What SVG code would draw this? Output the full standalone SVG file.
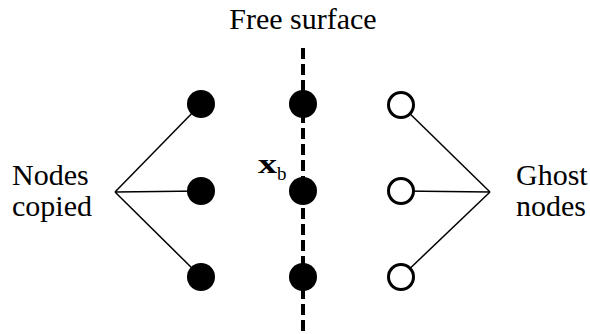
<svg xmlns="http://www.w3.org/2000/svg" width="590" height="334" viewBox="0 0 590 334">
<style>
.t{font-family:"Liberation Serif","Times New Roman",serif;fill:#000}
.lbl{font-size:30px}
.fill{fill:#000}
.open{fill:#fff;stroke:#000;stroke-width:3}
.ln{stroke:#000;stroke-width:1.5;fill:none}
.dash{stroke:#000;stroke-width:4;stroke-dasharray:11 5;fill:none}
</style>
<rect width="590" height="334" fill="#fff"/>
<text class="t lbl" x="303" y="29" text-anchor="middle">Free surface</text>
<g id="connectors">
<line class="dash" x1="303" y1="48" x2="303" y2="334"/>
<line class="ln" x1="115" y1="192" x2="201" y2="104"/>
<line class="ln" x1="115" y1="192" x2="201" y2="191"/>
<line class="ln" x1="115" y1="192" x2="201" y2="277"/>
<line class="ln" x1="490" y1="192" x2="401" y2="105"/>
<line class="ln" x1="490" y1="192" x2="401" y2="191"/>
<line class="ln" x1="490" y1="192" x2="401" y2="277"/>
</g>
<g id="copied-label"><text class="t lbl" x="12" y="185">Nodes</text><text class="t lbl" x="12" y="216">copied</text></g>
<g id="ghost-label"><text class="t lbl" x="516" y="185">Ghost</text><text class="t lbl" x="516" y="216">nodes</text></g>
<g id="xb"><text class="t" x="258" y="173" font-size="28" font-weight="bold" textLength="19" lengthAdjust="spacingAndGlyphs">x</text><text class="t" x="277" y="180" font-size="19">b</text></g>
<g id="n-l1"><circle class="fill" cx="201" cy="104" r="14"/></g>
<g id="n-l2"><circle class="fill" cx="201" cy="191" r="14"/></g>
<g id="n-l3"><circle class="fill" cx="201" cy="277" r="14"/></g>
<g id="n-c1"><circle class="fill" cx="303" cy="104" r="14"/></g>
<g id="n-c2"><circle class="fill" cx="303" cy="191" r="14"/></g>
<g id="n-c3"><circle class="fill" cx="303" cy="277" r="14"/></g>
<g id="n-r1"><circle class="open" cx="401" cy="105" r="12.5"/></g>
<g id="n-r2"><circle class="open" cx="401" cy="191" r="12.5"/></g>
<g id="n-r3"><circle class="open" cx="401" cy="277" r="12.5"/></g>
</svg>
